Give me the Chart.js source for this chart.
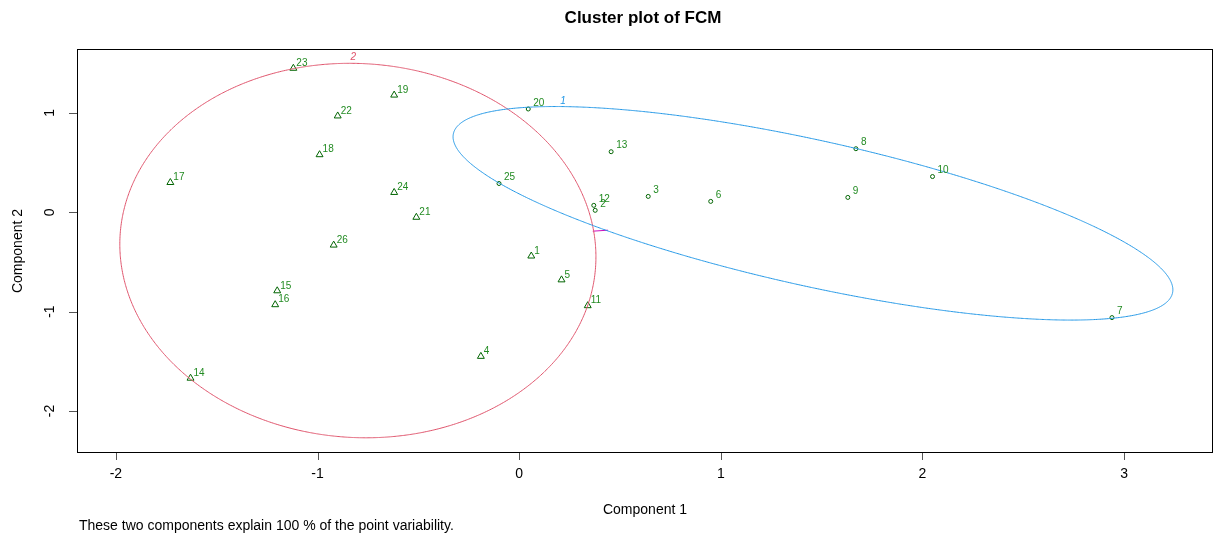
<!DOCTYPE html>
<html>
<head>
<meta charset="utf-8">
<script src="https://cdn.jsdelivr.net/npm/chart.js@4"></script>
<style>
  body { margin: 0; background: #fff; }
  #wrap { width: 1219px; height: 535px; position: relative; }
</style>
</head>
<body>
<div id="wrap"><canvas id="myChart"></canvas></div>
<script>
// cluster 1 (circles)
let ids1 = [2, 3, 6, 7, 8, 9, 10, 12, 13, 20, 25]
let x1 = [0.377, 0.64, 0.95, 2.94, 1.67, 1.63, 2.05, 0.37, 0.456, 0.045, -0.10]
let y1 = [0.02, 0.16, 0.11, -1.06, 0.64, 0.15, 0.36, 0.07, 0.61, 1.04, 0.29]

// cluster 2 (triangles)
let ids2 = [1, 4, 5, 11, 14, 15, 16, 17, 18, 19, 21, 22, 23, 24, 26]
let x2 = [0.06, -0.19, 0.21, 0.34, -1.63, -1.20, -1.21, -1.73, -0.99, -0.62, -0.51, -0.90, -1.12, -0.62, -0.92]
let y2 = [-0.44, -1.45, -0.68, -0.94, -1.67, -0.79, -0.93, 0.30, 0.58, 1.18, -0.05, 0.97, 1.45, 0.20, -0.33]

// ellipses: x = cx + a cos t + b sin t ; y = cy + c cos t + d sin t
let ellCenter1 = [1.457, -0.01]
let ellAxes1 = [1.785, 0, -0.77, 0.75]
let ellCenter2 = [-0.80, -0.385]
let ellAxes2 = [1.18, -0.04, 0, 1.885]
let ellNames = ['1', '2']
let ellLabelX = [0.218, -0.823]
let ellLabelY = [1.117, 1.56]

// segment between the two clusters
let linkX = [0.365, 0.44]
let linkY = [-0.19, -0.18]

let xTicks = [-2, -1, 0, 1, 2, 3]
let yTicks = [-2, -1, 0, 1]

let FONT = '"Liberation Sans", Arial, Helvetica, sans-serif'

function ToPoints(xs, ys){
    let pts = []
    for (let i = 0; i < xs.length; i++) {
        pts.push({x: xs[i], y: ys[i]})
    }
    return pts
}

function EllipsePoints(center, axes){
    let pts = []
    let n = 240
    for (let i = 0; i <= n; i++) {
        let t = i / n * Math.PI * 2
        pts.push({
            x: center[0] + axes[0] * Math.cos(t) + axes[1] * Math.sin(t),
            y: center[1] + axes[2] * Math.cos(t) + axes[3] * Math.sin(t)
        })
    }
    return pts
}

let decor = {
    id: 'decor',
    afterDatasetsDraw(chart){
        let ctx = chart.ctx
        let xs = chart.scales.x
        let ys = chart.scales.y
        ctx.save()
        ctx.font = '10px ' + FONT
        ctx.fillStyle = '#228B22'
        ctx.textBaseline = 'middle'
        ctx.textAlign = 'left'
        for (let i = 0; i < ids1.length; i++) {
            ctx.fillText(String(ids1[i]), xs.getPixelForValue(x1[i]) + 5, ys.getPixelForValue(y1[i]) - 6)
        }
        for (let i = 0; i < ids2.length; i++) {
            ctx.fillText(String(ids2[i]), xs.getPixelForValue(x2[i]) + 3, ys.getPixelForValue(y2[i]) - 5)
        }
        let ellColors = ['#2297E6', '#DF536B']
        ctx.font = 'italic 10px ' + FONT
        ctx.textAlign = 'center'
        for (let i = 0; i < ellNames.length; i++) {
            ctx.fillStyle = ellColors[i]
            ctx.fillText(ellNames[i], xs.getPixelForValue(ellLabelX[i]), ys.getPixelForValue(ellLabelY[i]))
        }
        ctx.restore()
    },
    afterDraw(chart){
        let ctx = chart.ctx
        let a = chart.chartArea
        let xs = chart.scales.x
        let ys = chart.scales.y
        ctx.save()
        // box
        ctx.strokeStyle = '#000'
        ctx.lineWidth = 1
        ctx.strokeRect(Math.round(a.left) + 0.5, Math.round(a.top) + 0.5,
            Math.round(a.right - a.left) - 1, Math.round(a.bottom - a.top) - 1)

        // ticks
        ctx.strokeStyle = '#555'
        ctx.beginPath()
        for (let i = 0; i < xTicks.length; i++) {
            let px = Math.round(xs.getPixelForValue(xTicks[i])) + 0.5
            ctx.moveTo(px, a.bottom)
            ctx.lineTo(px, a.bottom + 7)
        }
        for (let i = 0; i < yTicks.length; i++) {
            let py = Math.round(ys.getPixelForValue(yTicks[i])) + 0.5
            ctx.moveTo(a.left, py)
            ctx.lineTo(a.left - 8, py)
        }
        ctx.stroke()

        ctx.fillStyle = '#000'
        ctx.font = '14px ' + FONT
        ctx.textAlign = 'center'
        ctx.textBaseline = 'middle'
        for (let i = 0; i < xTicks.length; i++) {
            ctx.fillText(String(xTicks[i]), xs.getPixelForValue(xTicks[i]), 474)
        }
        for (let i = 0; i < yTicks.length; i++) {
            ctx.save()
            ctx.translate(50, ys.getPixelForValue(yTicks[i]))
            ctx.rotate(-Math.PI / 2)
            ctx.fillText(String(yTicks[i]), 0, 0)
            ctx.restore()
        }

        // axis titles
        ctx.fillText('Component 1', (a.left + a.right) / 2, 510)
        ctx.save()
        ctx.translate(18, (a.top + a.bottom) / 2)
        ctx.rotate(-Math.PI / 2)
        ctx.fillText('Component 2', 0, 0)
        ctx.restore()

        // title
        ctx.font = 'bold 17px ' + FONT
        ctx.fillText('Cluster plot of FCM', (a.left + a.right) / 2 - 2, 18)

        // footnote
        ctx.font = '14px ' + FONT
        ctx.textAlign = 'left'
        ctx.fillText('These two components explain 100 % of the point variability.', 79, 526)
        ctx.restore()
    }
}

let chart = new Chart('myChart', {
    type: 'scatter',
    data: {
        datasets: [
            {
                data: EllipsePoints(ellCenter1, ellAxes1),
                showLine: true,
                tension: 0.001,
                borderColor: '#2297E6',
                borderWidth: 1,
                pointRadius: 0,
                fill: false
            },
            {
                data: EllipsePoints(ellCenter2, ellAxes2),
                showLine: true,
                tension: 0.001,
                borderColor: '#DF536B',
                borderWidth: 1,
                pointRadius: 0,
                fill: false
            },
            {
                data: ToPoints(linkX, linkY),
                showLine: true,
                borderColor: '#CD0BBC',
                borderWidth: 1,
                pointRadius: 0,
                fill: false
            },
            {
                data: ToPoints(x1, y1),
                pointStyle: 'circle',
                pointRadius: 2,
                pointBorderWidth: 1,
                borderColor: '#006400',
                backgroundColor: 'rgba(0,0,0,0)'
            },
            {
                data: ToPoints(x2, y2),
                pointStyle: 'triangle',
                pointRadius: 4,
                pointBorderWidth: 1,
                borderColor: '#006400',
                backgroundColor: 'rgba(0,0,0,0)'
            }
        ]
    },
    options: {
        responsive: true,
        maintainAspectRatio: false,
        animation: false,
        events: [],
        layout: {
            padding: {left: 77, top: 49, right: 6, bottom: 82}
        },
        plugins: {
            legend: {display: false},
            tooltip: {enabled: false},
            title: {display: false}
        },
        scales: {
            x: {type: 'linear', min: -2.193, max: 3.441, display: false},
            y: {type: 'linear', min: -2.423, max: 1.644, display: false}
        }
    },
    plugins: [decor]
})
</script>
</body>
</html>
